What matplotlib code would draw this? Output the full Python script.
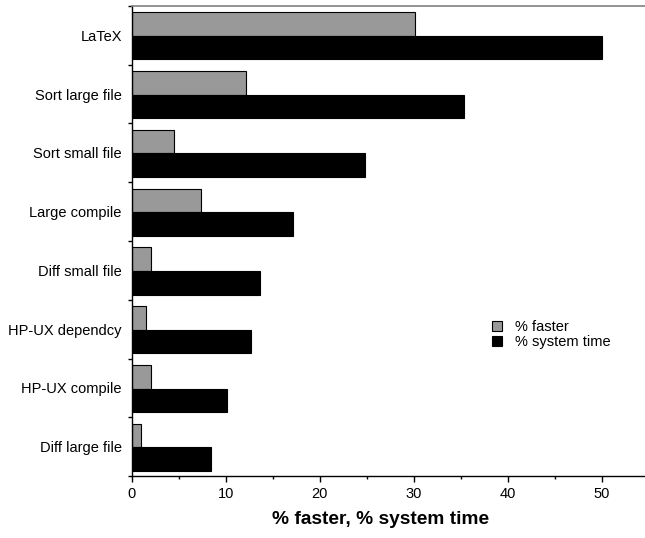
import numpy as np
import matplotlib
matplotlib.use("Agg")
import matplotlib.pyplot as plt
from matplotlib.patches import Patch

plt.rcParams['font.family'] = ['Liberation Sans', 'DejaVu Sans']

benchmarks = ["LaTeX", "Sort large file", "Sort small file", "Large compile",
              "Diff small file", "HP-UX dependcy", "HP-UX compile", "Diff large file"]
pct_faster = [30.1, 12.2, 4.5, 7.4, 2.05, 1.5, 2.05, 1.0]
pct_system = [50.0, 35.3, 24.8, 17.2, 13.7, 12.7, 10.1, 8.4]

fig = plt.figure(figsize=(6.45, 5.38), dpi=100)
ax = fig.add_axes([0.204, 0.115, 0.796, 0.874])

n = len(benchmarks)
y = np.arange(n)[::-1].astype(float)  # first benchmark on top
h = 0.4
ax.barh(y + 0.19, pct_faster, height=h, color="#999999", edgecolor="black",
        linewidth=0.8, label="% faster")
ax.barh(y - 0.21, pct_system, height=h, color="black", edgecolor="black",
        linewidth=0.8, label="% system time")

ax.set_ylim(-0.5, n - 0.5)
ax.set_xlim(0, 54.6)

# category separators as major ticks, labels on minor ticks at the centres
ax.set_yticks(np.arange(-0.5, n, 1.0))
ax.set_yticklabels([])
ax.set_yticks(y, minor=True)
ax.set_yticklabels(benchmarks, minor=True, fontsize=10.5)
ax.tick_params(axis="y", which="major", length=3, width=1, direction="out")
ax.tick_params(axis="y", which="minor", length=0, pad=7)

ax.set_xticks(np.arange(0, 51, 10))
ax.set_xticks(np.arange(0, 55, 5), minor=True)
ax.tick_params(axis="x", which="major", length=4, width=1, labelsize=10.5, pad=4)
ax.tick_params(axis="x", which="minor", length=2.5, width=1)

ax.set_xlabel("% faster, % system time", fontsize=13.8, fontweight="bold")
ax.xaxis.set_label_coords(0.484, -0.075)

ax.spines["right"].set_visible(False)
ax.spines["top"].set_color("#808080")
ax.spines["top"].set_linewidth(1.2)
ax.spines["left"].set_linewidth(1)
ax.spines["bottom"].set_linewidth(1)

handles = [Patch(facecolor="#999999", edgecolor="black", linewidth=0.8),
           Patch(facecolor="black", edgecolor="black", linewidth=0.8)]
ax.legend(handles, ["% faster", "% system time"], loc="upper left",
          bbox_to_anchor=(0.69, 0.345), frameon=False, fontsize=10.5,
          handlelength=0.7, handleheight=0.7, handletextpad=0.9,
          labelspacing=0.1, borderaxespad=0)

fig.savefig("out.png", dpi=100)
